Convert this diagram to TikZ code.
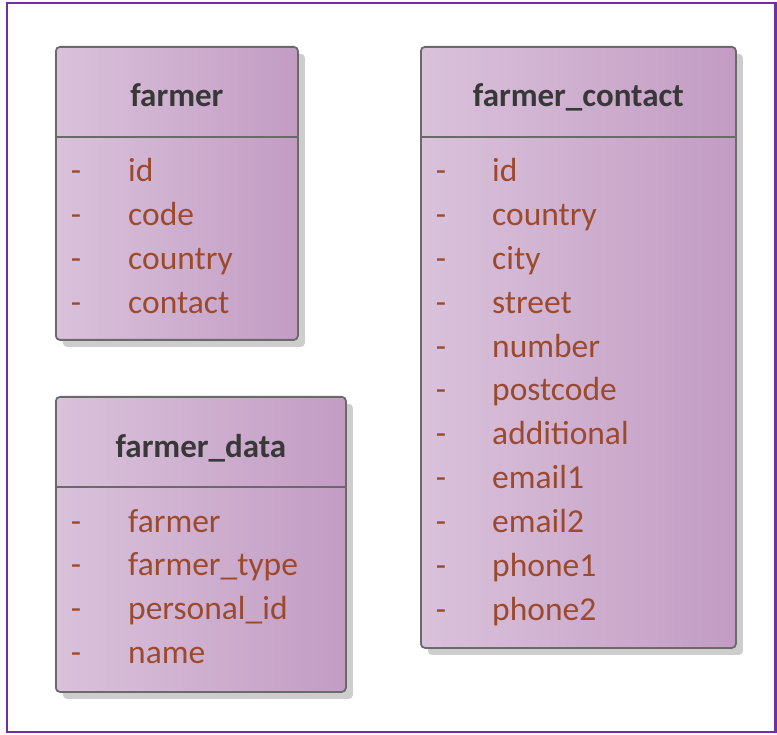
\documentclass[tikz,border=0pt]{standalone}
\usepackage{fontspec}
\setmainfont{Carlito}
\usepackage{tikz}
\usetikzlibrary{positioning,shadows}
\definecolor{framepurple}{HTML}{7030A0}
\definecolor{boxleft}{HTML}{DAC2DB}
\definecolor{boxright}{HTML}{C39CC4}
\definecolor{boxline}{HTML}{6A6A6A}
\definecolor{shadowgray}{HTML}{CDCDCD}
\definecolor{itemtext}{HTML}{9B4A2E}
\definecolor{headtext}{HTML}{383838}

\begin{document}
\begin{tikzpicture}[x=1pt,y=-1pt,
  classbox/.style={draw=boxline, line width=1.8pt, rounded corners=4pt,
    left color=boxleft, right color=boxright, anchor=north west, inner sep=0pt,
    drop shadow={shadow xshift=7pt, shadow yshift=-7pt, fill=shadowgray, opacity=1}},
  divider/.style={draw=boxline, line width=1.8pt},
  classname/.style={font=\fontsize{33}{40}\selectfont\bfseries, text=headtext, anchor=base},
  attrdash/.style={font=\fontsize{33.5}{40}\selectfont, text=itemtext, anchor=base, inner sep=0pt},
  attrname/.style={font=\fontsize{33.5}{40}\selectfont, text=itemtext, anchor=base west, inner sep=0pt}]
\useasboundingbox (0,0) rectangle (777,735);
\draw[framepurple, line width=2.6pt] (7,3) rectangle (775.5,732);

% farmer
\node[classbox, minimum width=242pt, minimum height=293pt] (farmer) at (55,46) {};
\draw[divider] ([yshift=-91pt]farmer.north west) -- ([yshift=-91pt]farmer.north east);
\node[classname] (farmer-title) at ([yshift=-61pt]farmer.north) {farmer};
\foreach \attr [count=\i] in {id,code,country,contact} {
  \node[attrdash] (farmer-dash-\i) at (76,{182+43.8*(\i-1)}) {-};
  \node[attrname] (farmer-attr-\i) at (128,{182+43.8*(\i-1)}) {\attr};
}

% farmer_data
\node[classbox, minimum width=290pt, minimum height=295pt] (data) at (55,396) {};
\draw[divider] ([yshift=-91pt]data.north west) -- ([yshift=-91pt]data.north east);
\node[classname] (data-title) at ([yshift=-61pt]data.north) {farmer\_data};
\foreach \attr [count=\i] in {farmer,farmer\_type,personal\_id,name} {
  \node[attrdash] (data-dash-\i) at (76,{532+43.8*(\i-1)}) {-};
  \node[attrname] (data-attr-\i) at (128,{532+43.8*(\i-1)}) {\attr};
}

% farmer_contact
\node[classbox, minimum width=315pt, minimum height=601pt] (contact) at (420,46) {};
\draw[divider] ([yshift=-91pt]contact.north west) -- ([yshift=-91pt]contact.north east);
\node[classname] (contact-title) at ([yshift=-61pt]contact.north) {farmer\_contact};
\foreach \attr [count=\i] in {id,country,city,street,number,postcode,additional,email1,email2,phone1,phone2} {
  \node[attrdash] (contact-dash-\i) at (441,{182+43.8*(\i-1)}) {-};
  \node[attrname] (contact-attr-\i) at (492,{182+43.8*(\i-1)}) {\attr};
}
\end{tikzpicture}
\end{document}
